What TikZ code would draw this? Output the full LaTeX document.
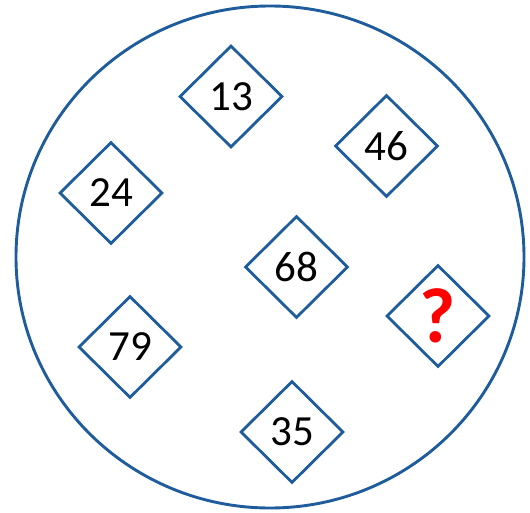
\documentclass[tikz,border=0pt]{standalone}
\usepackage{fontspec}
\setmainfont{Carlito}
\usetikzlibrary{shapes.geometric}
\definecolor{rimblue}{RGB}{30,92,156}
\definecolor{qred}{RGB}{255,0,0}
\tikzset{
  numbox/.style={diamond, draw=rimblue, line width=2.8pt, inner sep=0pt,
    minimum width=103pt, minimum height=102pt, aspect=1,
    font=\fontsize{43}{43}\selectfont, text=black},
  rim/.style={draw=rimblue, line width=2.9pt}
}
\begin{document}
\begin{tikzpicture}[x=1pt, y=-1pt]
\useasboundingbox (0,0) rectangle (530,513);
\draw[rim] (270,257) ellipse [x radius=254, y radius=251];
\node[numbox] (n13) at (231,96.5) {13};
\node[numbox] (n46) at (386.5,146) {46};
\node[numbox] (n24) at (111,193) {24};
\node[numbox] (n68) at (296.5,267) {68};
\node[numbox] (n79) at (130,347) {79};
\node[numbox] (nq) at (438,316) {\textcolor{qred}{\fontsize{78}{78}\selectfont\bfseries ?}};
\node[numbox] (n35) at (292,432) {35};
\end{tikzpicture}
\end{document}
